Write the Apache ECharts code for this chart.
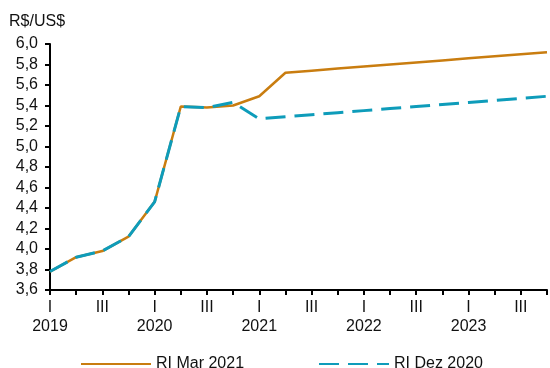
<!DOCTYPE html>
<html>
<head>
<meta charset="utf-8">
<script src="https://cdn.jsdelivr.net/npm/echarts@6/dist/echarts.min.js"></script>
<style>
html,body{margin:0;padding:0;background:#fff;}
#c{width:550px;height:368px;}
</style>
</head>
<body>
<div id="c"></div>
<script>
var years = ['2019','2020','2021','2022','2023'];
var quarters = ['I','II','III','IV'];
var quarterLabels = ['I','','III',''];
var seriesNames = ['RI Mar 2021','RI Dez 2020'];
var riMar2021 = [3.78, 3.92, 3.98, 4.12, 4.46, 5.39, 5.38, 5.40, 5.49, 5.72, 5.74, 5.76, 5.78, 5.80, 5.82, 5.84, 5.86, 5.88, 5.90, 5.92];
var riDez2020 = [3.78, 3.92, 3.98, 4.12, 4.46, 5.39, 5.38, 5.43, 5.27, 5.29, 5.31, 5.33, 5.35, 5.37, 5.39, 5.41, 5.43, 5.45, 5.47, 5.49];
var yTicks = {min: 3.6, max: 6.0, step: 0.2};

var categories = [];
years.forEach(function(y){ quarters.forEach(function(q){ categories.push(y + '-' + q); }); });

var chart = echarts.init(document.getElementById('c'), null, {renderer:'canvas'});
var font = 'Liberation Sans, Arial, sans-serif';
chart.setOption({
  backgroundColor: '#fff',
  animation: false,
  title: {text: 'R$/US$', left: 9, top: 14, padding: 0,
    textStyle: {fontFamily: font, fontSize: 16, fontWeight: 'normal', color: '#111'}},
  grid: {left: 50, right: 1, top: 44, bottom: 78, containLabel: false},
  legend: [
    {data: [seriesNames[0]], left: 80, top: 356, itemWidth: 70, itemHeight: 14, padding: 0,
     itemStyle: {opacity: 0},
     textStyle: {fontFamily: font, fontSize: 16, color: '#111'}},
    {data: [seriesNames[1]], left: 318, top: 356, itemWidth: 70, itemHeight: 14, padding: 0,
     itemStyle: {opacity: 0},
     textStyle: {fontFamily: font, fontSize: 16, color: '#111'}}
  ],
  xAxis: {
    type: 'category', data: categories, boundaryGap: false,
    axisLine: {lineStyle: {color: '#000', width: 2}},
    axisTick: {interval: 0, length: 5, lineStyle: {color: '#000', width: 2}},
    axisLabel: {interval: 0, margin: 8, lineHeight: 19, fontFamily: font, fontSize: 16, color: '#111',
      formatter: function(v, i){
        var parts = v.split('-');
        var qi = quarters.indexOf(parts[1]);
        var lab = quarterLabels[qi];
        if (qi === 0) return lab + '\n' + parts[0];
        return lab;
      }},
    splitLine: {show: false}
  },
  yAxis: {
    type: 'value', min: yTicks.min, max: yTicks.max, interval: yTicks.step,
    axisLine: {show: true, lineStyle: {color: '#000', width: 2}},
    axisTick: {show: true, length: 5, lineStyle: {color: '#000', width: 2}},
    axisLabel: {margin: 12, fontFamily: font, fontSize: 16, color: '#111',
      formatter: function(v){ return v.toFixed(1).replace('.', ','); }},
    splitLine: {show: false}
  },
  series: [
    {name: seriesNames[0], type: 'line', data: riMar2021, showSymbol: false, symbol: 'none',
     lineStyle: {color: '#C97D10', width: 2.5}, itemStyle: {color: '#C97D10'}, z: 2},
    {name: seriesNames[1], type: 'line', data: riDez2020, showSymbol: false, symbol: 'none',
     lineStyle: {color: '#0E9CBA', width: 3, type: [20, 9]}, itemStyle: {color: '#0E9CBA'}, z: 3}
  ]
});
</script>
</body>
</html>
